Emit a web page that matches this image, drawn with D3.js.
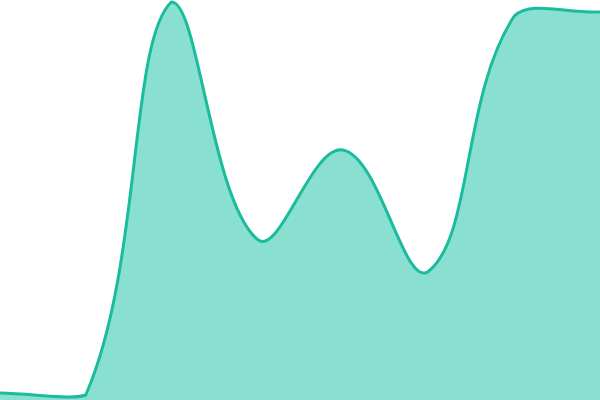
<!DOCTYPE html>
<html>
<head>
<meta charset="utf-8">
<script src="https://cdn.jsdelivr.net/npm/d3@7"></script>
<style>
  html, body { margin: 0; padding: 0; background: #ffffff; }
  svg { display: block; }
</style>
</head>
<body>
<svg id="chart" width="600" height="400"></svg>
<script>
// ---- data ----
const categories = ["Jan", "Feb", "Mar", "Apr", "May", "Jun", "Jul", "Aug"];
const values = [1.75, 1.25, 99.5, 40.2, 62.5, 32.2, 96.0, 97.0];
const yDomain = [0, 100];

// ---- layout ----
const W = 600, H = 400;
const svg = d3.select("#chart");

const x = d3.scalePoint().domain(categories).range([0, W]).padding(0);
const y = d3.scaleLinear().domain(yDomain).range([H, 0]);

// Tension-based bezier curve (control points from neighbour distances, capped to the plot area)
function TensionCurve(context, tension, area) {
  this._context = context;
  this._t = tension;
  this._area = area;
}
TensionCurve.prototype = {
  areaStart() { this._line = 0; },
  areaEnd() { this._line = NaN; },
  lineStart() { this._pts = []; },
  point(px, py) { this._pts.push({ x: +px, y: +py }); },
  lineEnd() {
    const p = this._pts, n = p.length, t = this._t, a = this._area, ctx = this._context;
    const dist = (u, v) => Math.hypot(u.x - v.x, u.y - v.y);
    const cap = (v, lo, hi) => Math.max(Math.min(v, hi), lo);
    for (let i = 0; i < n; i++) {
      const prev = i === 0 ? p[0] : p[i - 1];
      const cur = p[i];
      const next = p[Math.min(i + 1, n - 1)];
      const d01 = dist(cur, prev), d12 = dist(next, cur);
      let s01 = d01 / (d01 + d12), s12 = d12 / (d01 + d12);
      if (isNaN(s01)) s01 = 0;
      if (isNaN(s12)) s12 = 0;
      const fa = t * s01, fb = t * s12;
      cur.c1x = cur.x - fa * (next.x - prev.x);
      cur.c1y = cur.y - fa * (next.y - prev.y);
      cur.c2x = cur.x + fb * (next.x - prev.x);
      cur.c2y = cur.y + fb * (next.y - prev.y);
      cur.c1x = cap(cur.c1x, a.left, a.right); cur.c2x = cap(cur.c2x, a.left, a.right);
      cur.c1y = cap(cur.c1y, a.top, a.bottom); cur.c2y = cap(cur.c2y, a.top, a.bottom);
    }
    if (n) {
      this._line ? ctx.lineTo(p[0].x, p[0].y) : ctx.moveTo(p[0].x, p[0].y);
      for (let i = 1; i < n; i++) {
        ctx.bezierCurveTo(p[i - 1].c2x, p[i - 1].c2y, p[i].c1x, p[i].c1y, p[i].x, p[i].y);
      }
    }
    if (this._line || (this._line !== 0 && n === 1)) ctx.closePath();
    this._line = 1 - this._line;
  }
};
const plotArea = { left: 0, right: W, top: 0, bottom: H };
const tensionCurve = ctx => new TensionCurve(ctx, 0.4, plotArea);

const data = categories.map((c, i) => ({ c, v: values[i] }));

const area = d3.area()
  .x(d => x(d.c))
  .y0(y(yDomain[0]))
  .y1(d => y(d.v))
  .curve(tensionCurve);

const line = d3.line()
  .x(d => x(d.c))
  .y(d => y(d.v))
  .curve(tensionCurve);

svg.append("path")
  .datum(data)
  .attr("d", area)
  .attr("fill", "#8ae0d0");

svg.append("path")
  .datum(data)
  .attr("d", line)
  .attr("fill", "none")
  .attr("stroke", "#1abc9c")
  .attr("stroke-width", 3);
</script>
</body>
</html>
